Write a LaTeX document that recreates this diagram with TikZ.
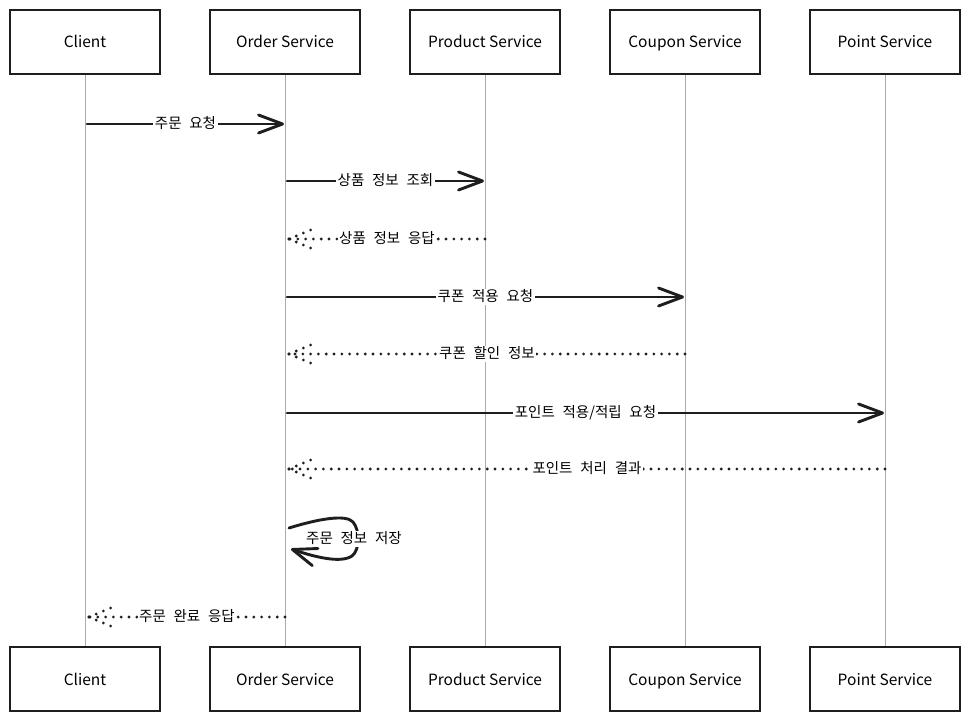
\documentclass[tikz,border=0pt]{standalone}
\usepackage{fontspec}
\setmainfont{Noto Sans CJK KR}
\newfontfamily\msgfont[WordSpace=2.4]{Noto Sans CJK KR}
\usetikzlibrary{arrows.meta}
\definecolor{ink}{HTML}{1E1E1E}
\definecolor{lifegray}{HTML}{ABABAB}
\begin{document}
\begin{tikzpicture}[x=1pt,y=-1pt,
  actor/.style={draw=ink, line width=1.8pt, minimum width=150pt, minimum height=64pt,
    inner sep=0pt, text height=13pt, text depth=1pt, font=\fontsize{15.5}{17}\selectfont},
  lifeline/.style={draw=lifegray, line width=1pt},
  msg/.style={draw=ink, line width=2.9pt, line cap=round,
    -{Straight Barb[length=24pt,width=18pt,line cap=round,line join=round]}},
  reply/.style={draw=ink, line width=3.1pt, line cap=round, dash pattern=on 0pt off 7.8pt},
  lbl/.style={fill=white, inner sep=1.5pt, text height=11pt, text depth=2pt,
    font=\msgfont\fontsize{14.5}{16}\selectfont}
]
\useasboundingbox (0,0) rectangle (970,722);

% participants, top and bottom
\foreach \n/\t/\x in {cl/Client/85, os/Order Service/285, ps/Product Service/485,
                      cs/Coupon Service/685, pt/Point Service/885}{
  \node[actor] (\n T) at (\x,42) {\t};
  \node[actor] (\n B) at (\x,679) {\t};
  \draw[lifeline] (\n T.south) -- (\n B.north);
}

% anchor points on the lifelines, one per message row
\coordinate (m1a) at (87,124);   \coordinate (m1b) at (284,124);
\coordinate (m2a) at (287,181);  \coordinate (m2b) at (484,181);
\coordinate (r1a) at (485,239);  \coordinate (r1b) at (289,239);
\coordinate (m3a) at (287,297);  \coordinate (m3b) at (684,297);
\coordinate (r2a) at (685,354);  \coordinate (r2b) at (289,354);
\coordinate (m4a) at (287,413);  \coordinate (m4b) at (884,413);
\coordinate (r3a) at (885,469);  \coordinate (r3b) at (289,469);
\coordinate (s1a) at (289,528);  \coordinate (s1b) at (291,549);
\coordinate (r4a) at (285,617);  \coordinate (r4b) at (89,617);

% requests
\draw[msg] (m1a) -- node[lbl]{주문 요청} (m1b);
\draw[msg] (m2a) -- node[lbl]{상품 정보 조회} (m2b);
\draw[msg] (m3a) -- node[lbl]{쿠폰 적용 요청} (m3b);
\draw[msg] (m4a) -- node[lbl]{포인트 적용/적립 요청} (m4b);

% replies with dotted open heads
\foreach \a/\b/\t in {r1a/r1b/상품 정보 응답, r2a/r2b/쿠폰 할인 정보,
                      r3a/r3b/포인트 처리 결과, r4a/r4b/주문 완료 응답}{
  \draw[reply] (\a) -- node[lbl]{\t} (\b);
  \draw[reply] (\b) -- ++(24,-10);
  \draw[reply] (\b) -- ++(24,10);
}

% self call on the order service
\draw[msg] (s1a) .. controls (318,519) and (346,514) .. (353,522)
  .. controls (360,530) and (360,550) .. (352,556)
  .. controls (340,564) and (312,556) .. (s1b);
\node[lbl] (selfl) at (354,539) {주문 정보 저장};
\end{tikzpicture}
\end{document}
